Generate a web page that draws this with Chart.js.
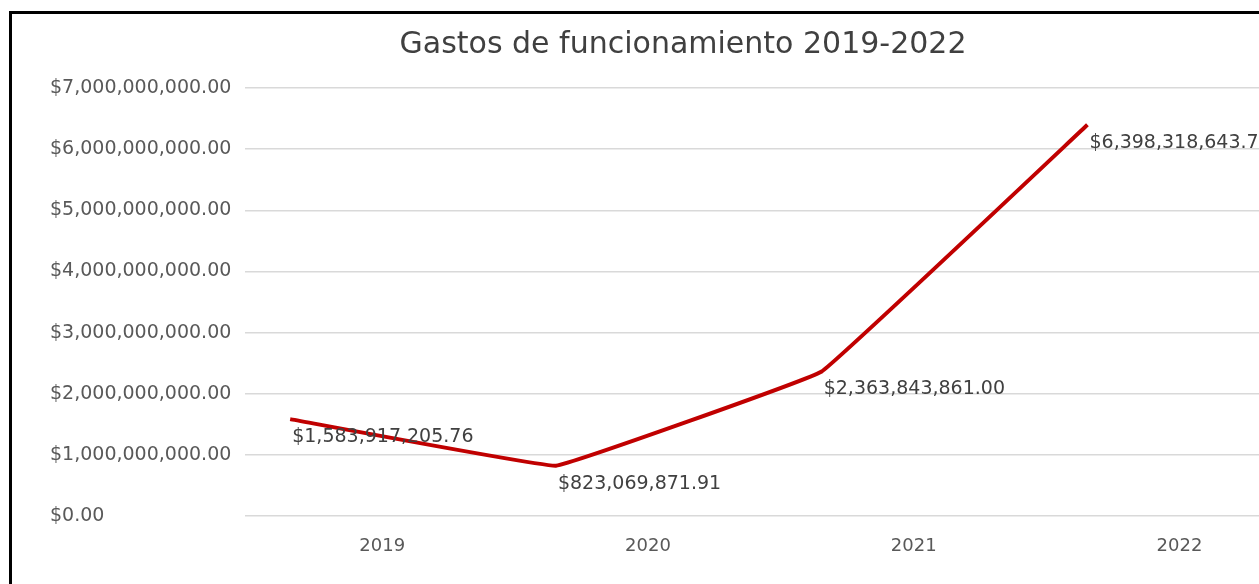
<!DOCTYPE html>
<html>
<head>
<meta charset="utf-8">
<script src="https://cdn.jsdelivr.net/npm/chart.js@4/dist/chart.umd.min.js"></script>
<style>
  html, body { margin:0; padding:0; background:#fff; overflow:hidden; }
  #frame { position:absolute; left:9px; top:11px; border-left:3px solid #000; border-top:3px solid #000; }
  canvas { display:block; }
</style>
</head>
<body>
<div id="frame"><canvas id="gastos" width="1304" height="570"></canvas></div>
<script>
const years = ['2019', '2020', '2021', '2022'];
const gastos = [1583917205.76, 823069871.91, 2363843861.00, 6398318643.70];
const yTicks = [0, 1e9, 2e9, 3e9, 4e9, 5e9, 6e9, 7e9];

const FONT = 'DejaVu Sans';
const money = v => '$' + v.toLocaleString('en-US', {minimumFractionDigits:2, maximumFractionDigits:2});

// value labels, drawn below-right of each point
const valueLabels = {
  id:'valueLabels',
  afterDatasetsDraw(chart){
    const ctx = chart.ctx;
    const meta = chart.getDatasetMeta(0);
    ctx.save();
    ctx.font = '19px "' + FONT + '"';
    ctx.fillStyle = '#404040';
    ctx.textAlign = 'left';
    ctx.textBaseline = 'middle';
    meta.data.forEach((pt, i) => {
      ctx.fillText(money(gastos[i]), pt.x + 2, pt.y + 18);
    });
    ctx.restore();
  }
};

new Chart(document.getElementById('gastos').getContext('2d'), {
  type:'line',
  data:{datasets:[{
    label:'Gastos',
    data: gastos.map((v, i) => ({x:i, y:v})),
    borderColor:'#c00000', borderWidth:4, tension:0.05,
    pointRadius:0, fill:false
  }]},
  options:{
    responsive:false, animation:false, parsing:false,
    layout:{padding:{left:38, right:0, top:0, bottom:0}},
    plugins:{
      legend:{display:false},
      tooltip:{enabled:false},
      title:{
        display:true, text:'Gastos de funcionamiento 2019-2022',
        color:'#404040', font:{family:FONT, size:30, weight:'normal', lineHeight:1.2},
        padding:{top:13, bottom:25}
      }
    },
    scales:{
      x:{
        type:'linear', min:-0.17, max:3.86,
        grid:{display:false, drawTicks:false},
        border:{display:false},
        afterBuildTicks: s => { s.ticks = years.map((_, i) => ({value:i})); },
        afterFit: s => { s.height = 68; },
        ticks:{
          callback: v => years[v],
          labelOffset:92, padding:20, maxRotation:0,
          color:'#595959', font:{family:FONT, size:18}
        }
      },
      y:{
        min:0, max:7e9,
        grid:{color:'#d9d9d9', lineWidth:1.5, drawTicks:false},
        border:{display:false},
        afterBuildTicks: s => { s.ticks = yTicks.map(v => ({value:v})); },
        afterFit: s => { s.width = 195; },
        ticks:{
          callback: v => money(v),
          crossAlign:'far', padding:13,
          color:'#595959', font:{family:FONT, size:19}
        }
      }
    }
  },
  plugins:[valueLabels]
});
</script>
</body>
</html>
